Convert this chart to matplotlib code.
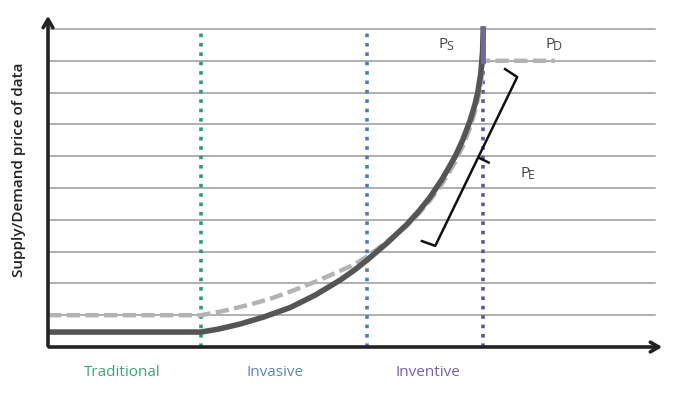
import matplotlib
matplotlib.use("Agg")
import matplotlib.pyplot as plt

# ---- data (x: 0-100 horizontal scale, y: gridline units) ----
stage_names = ["Traditional", "Invasive", "Inventive"]
stage_x = [25.2, 52.6, 71.7]
stage_colors = ["#2e9e6b", "#4a7fb5", "#6a4fa0"]
label_colors = ["#3aa57a", "#5a86b5", "#7e5fa0"]
label_x = [12.3, 37.4, 62.6]

supply_x = [0, 25.2, 28.0, 31.6, 35.5, 39.9, 44.0, 48.1, 50.5, 52.6, 55.8, 59.1, 61.0, 62.9,
            65.0, 67.1, 68.3, 69.5, 70.3, 70.8, 71.3, 71.6, 71.7]
supply_y = [0.47, 0.47, 0.56, 0.72, 0.94, 1.24, 1.63, 2.1, 2.42, 2.74, 3.26, 3.85, 4.25, 4.7,
            5.3, 6.0, 6.5, 7.1, 7.6, 8.0, 8.6, 9.3, 10.0]

demand_x = [0, 25.2, 28.8, 33.0, 36.5, 39.9, 44.0, 48.1, 50.5, 52.6, 55.8, 59.1, 61.0, 62.9,
            65.0, 67.1, 68.3, 69.5, 70.3, 70.9, 71.4, 71.7, 83.5]
demand_y = [1.0, 1.0, 1.13, 1.32, 1.51, 1.74, 2.05, 2.39, 2.6, 2.85, 3.3, 3.82, 4.18, 4.6,
            5.15, 5.82, 6.3, 6.88, 7.38, 7.85, 8.4, 9.0, 9.0]

bracket_x = [61.6, 63.8, 77.3, 75.3]
bracket_y = [3.33, 3.18, 8.49, 8.74]
tick_x = [71.0, 72.6]
tick_y = [5.95, 5.8]

grid_levels = list(range(1, 11))

fig = plt.figure(figsize=(6.75, 4.10), dpi=100)
W, H = 675, 410
ax = fig.add_axes([48 / W, (H - 348) / H, 620 / W, 334 / H])
ax.set_xlim(0, 620 / 6.07)
ax.set_ylim(0, 334 / 31.8)
ax.axis("off")

xmax_grid = (655 - 48) / 6.07
for g in grid_levels:
    ax.plot([0, xmax_grid], [g, g], color="#9a9a9a", lw=1.1, zorder=1)

for sx, c in zip(stage_x, stage_colors):
    ax.plot([sx, sx], [0, 10], color=c, lw=2.6, ls=(0, (1, 1.6)), zorder=2)

ax.plot(demand_x, demand_y, color="#b3b3b3", lw=3.2, ls=(0, (3, 1.2)), zorder=3,
        solid_capstyle="butt")
ax.plot(supply_x, supply_y, color="#555555", lw=4, zorder=4, solid_joinstyle="round")
ax.plot([71.7, 71.7], [9.0, 10.0], color="#7466a0", lw=3.5, zorder=5)

ax.plot(bracket_x, bracket_y, color="#111111", lw=1.8, zorder=6)
ax.plot(tick_x, tick_y, color="#111111", lw=1.8, zorder=6)

# axes arrows
ax.annotate("", xy=(0, 334 / 31.8), xytext=(0, -0.05),
            arrowprops=dict(arrowstyle="->,head_length=0.6,head_width=0.35", lw=2.6, color="#222222"),
            annotation_clip=False, zorder=7)
ax.annotate("", xy=(617 / 6.07, 0), xytext=(-0.3, 0),
            arrowprops=dict(arrowstyle="->,head_length=0.6,head_width=0.35", lw=2.6, color="#222222"),
            annotation_clip=False, zorder=7)

fam = ["Open Sans", "DejaVu Sans"]
def plabel(x, y, sub):
    ax.text(x, y, "P", fontsize=11, color="#444444", family=fam, ha="left", va="center")
    ax.text(x + 1.3, y - 0.07, sub, fontsize=9, color="#444444", family=fam, ha="left", va="center")

plabel(64.3, 9.55, "S")
plabel(81.9, 9.55, "D")
plabel(77.8, 5.5, "E")

for name, lx, c in zip(stage_names, label_x, label_colors):
    fig.text((48 + lx * 6.07) / W, (H - 373) / H, name, fontsize=11, color=c,
             family=fam, ha="center", va="center")

fig.text(19 / W, (H - 170) / H, "Supply/Demand price of data", rotation=90,
         fontsize=11, fontweight="semibold", color="#222222", family=fam,
         ha="center", va="center")

fig.savefig("out.png", dpi=100)
